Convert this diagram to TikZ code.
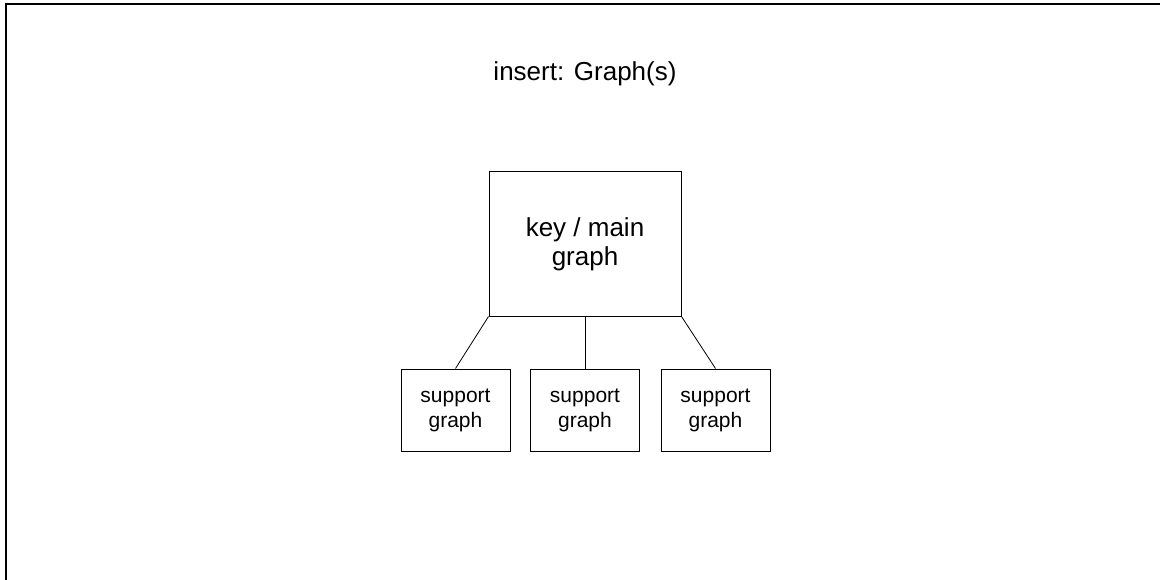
\documentclass[tikz,border=0pt]{standalone}
\usepackage{fontspec}
\setmainfont{Liberation Sans}

\tikzset{
    mainbox/.style={draw, line width=1pt, minimum width=192pt, minimum height=144pt, align=center, inner sep=0pt, font=\fontsize{26}{29}\selectfont},
    supportbox/.style={draw, line width=1pt, minimum width=109pt, minimum height=82pt, align=center, inner sep=0pt, font=\fontsize{21}{25}\selectfont}
}

\begin{document}
\begin{tikzpicture}[x=1pt, y=-1pt]
        \useasboundingbox (0,0) rectangle (1160,580);
        
        % Frame
        \draw[line width=2pt] (6,580) -- (6,4) -- (1160,4);
        
        % Title
        \node (title) at (585,74) {\fontsize{26}{29}\selectfont insert: Graph(s)};
        
        % Main graph
        \node[mainbox] (main) at (585,244) {key / main\\graph};
        
        % Support graphs
        \node[supportbox] (supleft) at (455.5,410) {support\\graph};
        \node[supportbox] (supmid) at (585,410) {support\\graph};
        \node[supportbox] (supright) at (715.5,410) {support\\graph};
        
        % Links
        \draw[line width=0.8pt] (main.south west) -- (supleft.north);
        \draw[line width=0.8pt] (main.south) -- (supmid.north);
        \draw[line width=0.8pt] (main.south east) -- (supright.north);
        
    \end{tikzpicture}
\end{document}
